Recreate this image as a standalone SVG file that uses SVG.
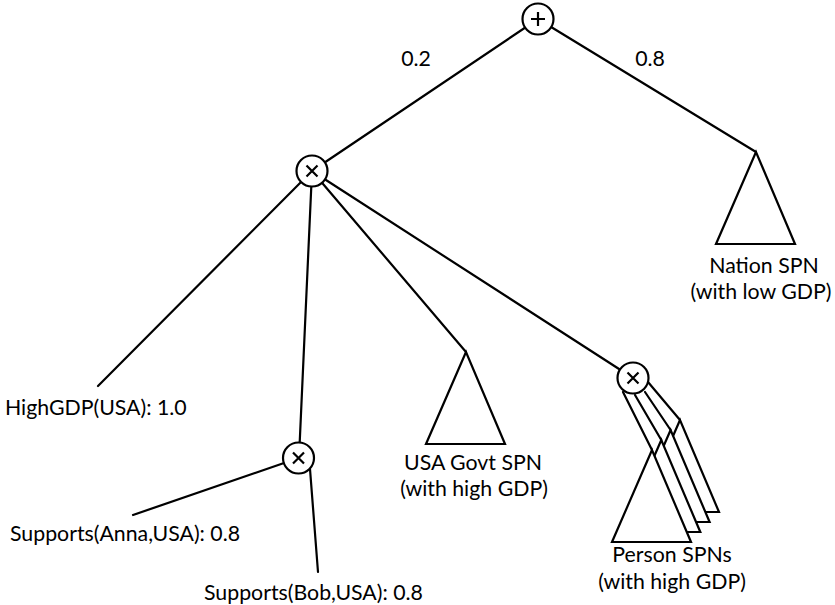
<svg xmlns="http://www.w3.org/2000/svg" width="835" height="605" viewBox="0 0 835 605">
<style>
  .ln { stroke: #000; stroke-width: 2.2; fill: none; stroke-linecap: round; }
  .node { stroke: #000; stroke-width: 2.2; fill: #fff; }
  .tri { stroke: #000; stroke-width: 2.2; fill: #fff; stroke-linejoin: miter; }
  .sym { stroke: #000; stroke-width: 2.2; fill: none; }
  text { font-family: Lato, "Liberation Sans", sans-serif; font-size: 21.3px; fill: #000; }
  .c { text-anchor: middle; }
</style>
<rect width="835" height="605" fill="#fff"/>
<g id="connectors">
  <line class="ln" x1="538" y1="19" x2="312" y2="171"/>
  <line class="ln" x1="538" y1="19" x2="756" y2="152"/>
  <line class="ln" x1="312" y1="171" x2="98" y2="386"/>
  <line class="ln" x1="312" y1="171" x2="299" y2="458"/>
  <line class="ln" x1="312" y1="171" x2="466" y2="352"/>
  <line class="ln" x1="312" y1="171" x2="633" y2="378"/>
  <line class="ln" x1="298.5" y1="458" x2="133" y2="515"/>
  <line class="ln" x1="310" y1="469" x2="318" y2="572"/>
  <line class="ln" x1="623" y1="392" x2="652" y2="450"/>
  <line class="ln" x1="635" y1="395" x2="661.3" y2="440"/>
  <line class="ln" x1="645" y1="392" x2="670.6" y2="430"/>
  <line class="ln" x1="648" y1="382" x2="680" y2="420"/>
</g>
<g id="sum">
  <circle class="node" cx="538" cy="19" r="15.5"/>
  <path class="sym" d="M531 19H545M538 12V26"/>
</g>
<g id="prod-top">
  <circle class="node" cx="312" cy="171" r="15.5"/>
  <path class="sym" d="M306.5 165.5L317.5 176.5M317.5 165.5L306.5 176.5"/>
</g>
<g id="prod-supports">
  <circle class="node" cx="298.5" cy="458" r="15.5"/>
  <path class="sym" d="M293 452.5L304 463.5M304 452.5L293 463.5"/>
</g>
<g id="prod-person">
  <circle class="node" cx="633" cy="378" r="15.5"/>
  <path class="sym" d="M627.5 372.5L638.5 383.5M638.5 372.5L627.5 383.5"/>
</g>
<g id="nation-spn">
  <polygon class="tri" points="756,152 716,244 795,244"/>
  <text class="c" x="764" y="273">Nation SPN</text>
  <text class="c" x="761" y="299">(with low GDP)</text>
</g>
<g id="usa-govt-spn">
  <polygon class="tri" points="466,352 426,444 505,444"/>
  <text class="c" x="473" y="470">USA Govt SPN</text>
  <text class="c" x="474" y="496">(with high GDP)</text>
</g>
<g id="person-spns">
  <polygon class="tri" points="680,420 640,512 719,512"/>
  <polygon class="tri" points="670.6,430 630.6,522 709.6,522"/>
  <polygon class="tri" points="661.3,440 621.3,532 700.3,532"/>
  <polygon class="tri" points="652,450 612,542 691,542"/>
  <text class="c" x="672" y="562">Person SPNs</text>
  <text class="c" x="672" y="589">(with high GDP)</text>
</g>
<g id="high-gdp">
  <text x="5" y="415">HighGDP(USA): 1.0</text>
</g>
<g id="supports-anna">
  <text x="10" y="541">Supports(Anna,USA): 0.8</text>
</g>
<g id="supports-bob">
  <text x="204" y="600">Supports(Bob,USA): 0.8</text>
</g>
<g id="weights">
  <text class="c" x="416" y="66">0.2</text>
  <text class="c" x="650" y="66">0.8</text>
</g>
</svg>
